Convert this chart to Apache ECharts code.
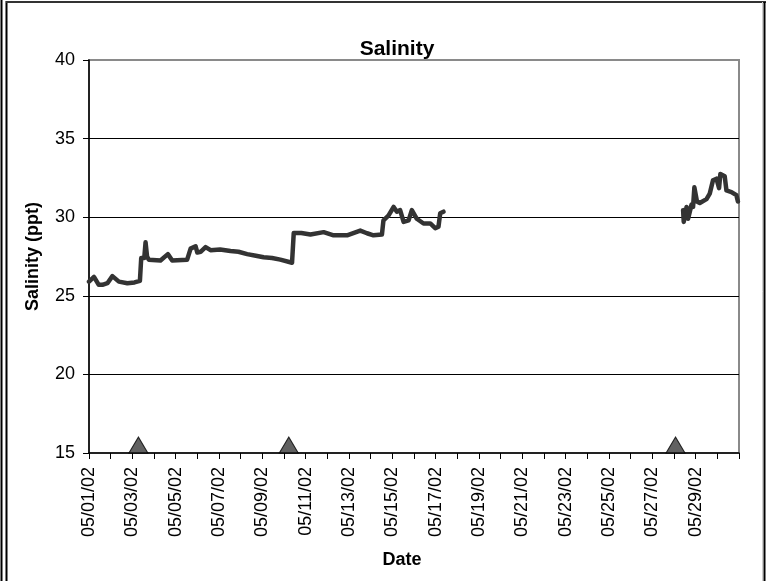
<!DOCTYPE html>
<html>
<head>
<meta charset="utf-8">
<script src="https://cdn.jsdelivr.net/npm/echarts@6/dist/echarts.min.js"></script>
<style>
  html, body { margin: 0; padding: 0; background: #fff; }
  #main { width: 770px; height: 581px; }
</style>
</head>
<body>
<div id="main"></div>
<script>
// x = day of May 2002 (1.0 = 05/01/02 00:00), y = salinity in ppt
var sampleDays = [
  1.00, 1.23, 1.45, 1.62, 1.85, 2.08, 2.38, 2.77, 3.10, 3.35,
  3.41, 3.55, 3.61, 3.68, 3.76, 4.30, 4.64, 4.84, 5.53, 5.69,
  5.92, 6.00, 6.15, 6.38, 6.61, 7.05, 7.53, 7.90, 8.30, 8.70,
  9.06, 9.45, 9.83, 10.37, 10.45, 10.80, 11.22, 11.83, 12.29, 12.91,
  13.52, 13.83, 14.13, 14.52, 14.59, 14.82, 15.06, 15.21, 15.36, 15.52,
  15.75, 15.90, 16.13, 16.44, 16.75, 16.98, 17.13, 17.21, 17.36,
  20.00,
  28.42, 28.45, 28.58, 28.65, 28.73, 28.81, 28.88, 28.94, 29.00, 29.06,
  29.19, 29.50, 29.65, 29.80, 29.96, 30.08, 30.14, 30.34, 30.42, 30.65,
  30.88, 30.95
];
var salinity = [
  25.9, 26.2, 25.7, 25.7, 25.8, 26.25, 25.9, 25.8, 25.85, 25.95,
  27.4, 27.4, 28.4, 27.5, 27.3, 27.25, 27.65, 27.25, 27.3, 28.0,
  28.15, 27.75, 27.8, 28.1, 27.9, 27.95, 27.85, 27.8, 27.65, 27.55,
  27.45, 27.4, 27.3, 27.1, 29.0, 29.0, 28.9, 29.05, 28.85, 28.85,
  29.15, 28.98, 28.85, 28.9, 29.8, 30.1, 30.65, 30.35, 30.45, 29.7,
  29.8, 30.45, 29.9, 29.6, 29.6, 29.3, 29.4, 30.25, 30.35,
  null,
  30.45, 29.7, 30.65, 29.9, 29.9, 30.8, 30.65, 31.9, 31.95, 31.0,
  30.9, 31.15, 31.5, 32.35, 32.45, 31.85, 32.75, 32.6, 31.7, 31.6,
  31.4, 31.0
];
// triangle markers along the x axis
var markerDays = [3.28, 10.22, 28.07];
var markerLevel = [15, 15, 15];
// date labels at every second day tick
var tickLabels = [
  '05/01/02', '05/03/02', '05/05/02', '05/07/02', '05/09/02',
  '05/11/02', '05/13/02', '05/15/02', '05/17/02', '05/19/02',
  '05/21/02', '05/23/02', '05/25/02', '05/27/02', '05/29/02'
];

var myChart = echarts.init(document.getElementById('main'));

var lineData = sampleDays.map(function (d, i) {
  return [d, salinity[i] == null ? '-' : salinity[i]];
});
var markerData = markerDays.map(function (d, i) {
  return [d, markerLevel[i]];
});

var font = 'Arial, "Liberation Sans", sans-serif';

myChart.setOption({
  animation: false,
  backgroundColor: '#fff',
  title: {
    text: 'Salinity',
    left: 392,
    textAlign: 'center',
    top: 34,
    textStyle: { fontFamily: font, fontSize: 21, fontWeight: 'bold', color: '#000' }
  },
  grid: {
    left: 89,
    right: 31,
    top: 60,
    bottom: 128,
    show: true,
    borderColor: '#8a8a8a',
    borderWidth: 2,
    backgroundColor: 'transparent'
  },
  xAxis: {
    type: 'value',
    min: 1,
    max: 31,
    interval: 1,
    name: 'Date',
    nameLocation: 'middle',
    nameGap: 98,
    nameTextStyle: { fontFamily: font, fontSize: 18, fontWeight: 'bold', color: '#000', padding: [0, 0, 0, -24] },
    axisLine: { lineStyle: { color: '#000', width: 1.5 } },
    axisTick: { show: true, length: 6, lineStyle: { color: '#000' } },
    splitLine: { show: false },
    axisLabel: {
      rotate: 90,
      margin: 14,
      fontFamily: font,
      fontSize: 18,
      color: '#000',
      showMinLabel: true,
      showMaxLabel: true,
      formatter: function (v) {
        var k = Math.round(v);
        if ((k - 1) % 2 !== 0) return '';
        return tickLabels[(k - 1) / 2] || '';
      }
    }
  },
  yAxis: {
    type: 'value',
    min: 15,
    max: 40,
    interval: 5,
    name: 'Salinity (ppt)',
    nameLocation: 'middle',
    nameGap: 47,
    nameTextStyle: { fontFamily: font, fontSize: 18, fontWeight: 'bold', color: '#000' },
    axisLine: { show: true, lineStyle: { color: '#000', width: 1.5 } },
    axisTick: { show: true, inside: false, length: 6, lineStyle: { color: '#000' } },
    splitLine: { show: true, showMinLine: false, showMaxLine: false, lineStyle: { color: '#000', width: 1 } },
    axisLabel: { margin: 14, fontFamily: font, fontSize: 18, color: '#000' }
  },
  series: [
    {
      type: 'line',
      data: lineData,
      showSymbol: false,
      symbol: 'none',
      connectNulls: false,
      lineStyle: { color: '#333', width: 4.5, join: 'round', cap: 'round' },
      z: 3
    },
    {
      type: 'scatter',
      data: markerData,
      symbol: 'triangle',
      symbolSize: [19, 16],
      symbolOffset: [0, -8],
      clip: false,
      itemStyle: { color: '#3a3a3a', borderColor: '#000', borderWidth: 1 },
      z: 4
    }
  ],
  graphic: [
    { type: 'line', shape: { x1: 1.5, y1: 0, x2: 1.5, y2: 581 }, style: { stroke: '#000', lineWidth: 2 } },
    { type: 'line', shape: { x1: 6.5, y1: 1, x2: 6.5, y2: 581 }, style: { stroke: '#000', lineWidth: 2 } },
    { type: 'line', shape: { x1: 6, y1: 2, x2: 766, y2: 2 }, style: { stroke: '#333', lineWidth: 2 } },
    { type: 'line', shape: { x1: 764.5, y1: 2, x2: 764.5, y2: 581 }, style: { stroke: '#000', lineWidth: 2 } },
    { type: 'line', shape: { x1: 762.5, y1: 2, x2: 762.5, y2: 581 }, style: { stroke: '#ccc', lineWidth: 1 } }
  ]
});
</script>
</body>
</html>
